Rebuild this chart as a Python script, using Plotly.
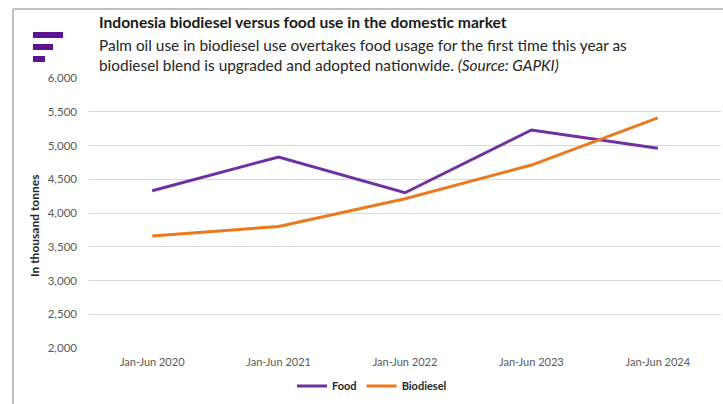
import plotly.graph_objects as go

categories = ["Jan-Jun 2020", "Jan-Jun 2021", "Jan-Jun 2022", "Jan-Jun 2023", "Jan-Jun 2024"]
food = [4330, 4830, 4300, 5230, 4960]
biodiesel = [3660, 3800, 4210, 4710, 5410]
y_ticks = [2000, 2500, 3000, 3500, 4000, 4500, 5000, 5500, 6000]

W, H = 723, 404
L, R, T, B = 89, 2, 78, 56
PW, PH = W - L - R, H - T - B

def px(x):
    return (x - L) / PW

def py(y):
    return (H - B - y) / PH

FONT = "Lato"

fig = go.Figure()
fig.add_trace(go.Scatter(x=categories, y=food, name="Food", mode="lines",
                         line=dict(color="#7030A0", width=3)))
fig.add_trace(go.Scatter(x=categories, y=biodiesel, name="Biodiesel", mode="lines",
                         line=dict(color="#EB7A1E", width=3)))

fig.update_layout(
    width=W, height=H,
    margin=dict(l=L, r=R, t=T, b=B),
    paper_bgcolor="white", plot_bgcolor="white",
    font=dict(family=FONT, color="#595959", size=11),
    showlegend=True,
    legend=dict(orientation="h", x=px(372), xanchor="center", y=py(386), yanchor="middle",
                font=dict(family=FONT, size=11, color="#262626", weight="bold"),
                itemwidth=30, tracegroupgap=0, bgcolor="rgba(0,0,0,0)"),
    xaxis=dict(type="category", range=[-0.5, 4.5], showgrid=False, zeroline=False,
               showline=False, ticks="", ticklabelstandoff=6,
               tickfont=dict(size=11, color="#595959")),
    yaxis=dict(range=[2000, 6000], tickvals=y_ticks, tickformat=",", showgrid=True,
               gridcolor="#D9D9D9", gridwidth=1, zeroline=False, showline=False,
               ticks="", ticklabelstandoff=11, tickfont=dict(size=11.5, color="#595959")),
)

# frame lines
fig.add_shape(type="line", xref="paper", yref="paper", x0=px(13), x1=px(723), y0=py(9), y1=py(9),
              line=dict(color="#BFBFBF", width=2))
fig.add_shape(type="line", xref="paper", yref="paper", x0=px(13), x1=px(13), y0=py(9), y1=py(404),
              line=dict(color="#BFBFBF", width=2))

# logo bars
for (x0, x1, y0, y1) in [(33, 63, 32, 38), (33, 53, 44, 50), (33, 45, 56, 62)]:
    fig.add_shape(type="rect", xref="paper", yref="paper", x0=px(x0), x1=px(x1), y0=py(y1), y1=py(y0),
                  fillcolor="#5E1190", line=dict(width=0))

fig.add_annotation(xref="paper", yref="paper", x=px(97), y=py(22), xanchor="left", yanchor="middle",
                   text="<b>Indonesia biodiesel versus food use in the domestic market</b>",
                   showarrow=False, font=dict(family=FONT, size=15.6, color="#1a1a1a"))
fig.add_annotation(xref="paper", yref="paper", x=px(97), y=py(55), xanchor="left", yanchor="middle",
                   text="Palm oil use in biodiesel use overtakes food usage for the first time this year as<br>"
                        "biodiesel blend is upgraded and adopted nationwide. <i>(Source: GAPKI)</i>",
                   align="left", showarrow=False, font=dict(family=FONT, size=15.4, color="#262626"))
fig.add_annotation(xref="paper", yref="paper", x=px(34), y=py(226), xanchor="center", yanchor="middle",
                   text="<b>In thousand tonnes</b>", textangle=-90,
                   showarrow=False, font=dict(family=FONT, size=12, color="#262626"))

fig.write_html("out.html")
